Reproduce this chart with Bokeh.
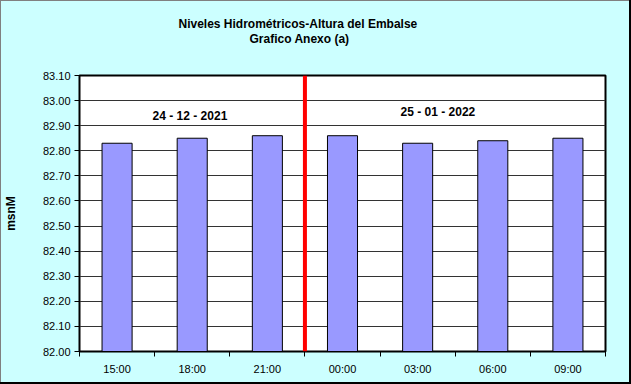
from bokeh.plotting import figure
from bokeh.models import (ColumnDataSource, FixedTicker, Span, Label, Title,
                          NumeralTickFormatter, Range1d)
from bokeh.embed import file_html
from bokeh.resources import INLINE

# ---- data ----
hours = ["15:00", "18:00", "21:00", "00:00", "03:00", "06:00", "09:00"]
levels = [82.83, 82.85, 82.86, 82.86, 82.83, 82.84, 82.85]
date_labels = ["24 - 12 - 2021", "25 - 01 - 2022"]
title_lines = ["Niveles Hidrométricos-Altura del Embalse", "Grafico Anexo (a)"]
y_label = "msnM"
y_min, y_max = 82.00, 83.10
y_ticks = [82.00, 82.10, 82.20, 82.30, 82.40, 82.50, 82.60, 82.70, 82.80, 82.90, 83.00, 83.10]
divider_index = 3  # date change between 21:00 and 00:00

FONT = "Liberation Sans"
W, H = 631, 384
ML, MR, MT, MB = 78, 26, 75, 33

xs = [i + 0.5 for i in range(len(hours))]
src = ColumnDataSource(dict(x=xs, top=levels, hour=hours))

p = figure(width=W, height=H, output_backend="svg", toolbar_location=None,
           x_range=Range1d(0, len(hours)), y_range=Range1d(y_min, y_max),
           min_border_left=ML, min_border_right=MR, min_border_top=MT,
           min_border_bottom=MB,
           styles={"background-color": "#CCFFFF",
                   "box-shadow": "inset -2px -2px 0 0 #000000, inset 1px 1px 0 0 #808080"})
p.title.visible = False
p.background_fill_color = "white"
p.border_fill_alpha = 0
p.outline_line_color = "black"
p.outline_line_width = 2

p.vbar(x="x", top="top", bottom=y_min, width=0.4, source=src,
       fill_color="#9999FF", line_color="black", line_width=1)

# x axis
p.xaxis.ticker = FixedTicker(ticks=xs, minor_ticks=list(range(len(hours) + 1)))
p.xaxis.major_label_overrides = {x: h for x, h in zip(xs, hours)}
p.xaxis.major_tick_out = 0
p.xaxis.major_tick_in = 0
p.xaxis.minor_tick_out = 5
p.xaxis.minor_tick_in = 0
p.xaxis.minor_tick_line_color = "black"
p.xaxis.axis_line_color = "black"
p.xaxis.major_label_text_font = FONT
p.xaxis.major_label_text_font_size = "11px"
p.xaxis.major_label_text_color = "black"
p.xaxis.major_label_standoff = 6
p.xgrid.visible = False

# y axis
p.yaxis.ticker = FixedTicker(ticks=y_ticks)
p.yaxis.formatter = NumeralTickFormatter(format="0.00")
p.yaxis.major_tick_out = 5
p.yaxis.major_tick_in = 0
p.yaxis.minor_tick_line_color = None
p.yaxis.axis_line_color = "black"
p.yaxis.major_label_text_font = FONT
p.yaxis.major_label_text_font_size = "11px"
p.yaxis.major_label_text_color = "black"
p.yaxis.major_label_standoff = 4
p.yaxis.axis_label = y_label
p.yaxis.axis_label_text_font = FONT
p.yaxis.axis_label_text_font_style = "bold"
p.yaxis.axis_label_text_font_size = "12px"
p.yaxis.axis_label_text_color = "black"
p.yaxis.axis_label_standoff = 22
p.ygrid.grid_line_color = "#333333"
p.ygrid.grid_line_width = 1

# divider
p.add_layout(Span(location=divider_index, dimension="height", line_color="red", line_width=4))

# date labels
p.add_layout(Label(x=1.47, y=82.94, text=date_labels[0], text_align="center",
                   text_baseline="middle", text_font=FONT, text_font_style="bold",
                   text_font_size="12px", text_color="black"))
p.add_layout(Label(x=4.77, y=82.955, text=date_labels[1], text_align="center",
                   text_baseline="middle", text_font=FONT, text_font_style="bold",
                   text_font_size="12px", text_color="black"))

# titles: spacer nearest the frame, then line 2, then line 1
p.add_layout(Title(text=" ", text_font_size="1px", standoff=27), "above")
p.add_layout(Title(text=title_lines[1], align="left", offset=170, standoff=0,
                   text_font=FONT, text_font_style="bold", text_font_size="12px",
                   text_color="black"), "above")
p.add_layout(Title(text=title_lines[0], align="left", offset=99, standoff=-2,
                   text_font=FONT, text_font_style="bold", text_font_size="12px",
                   text_color="black"), "above")

open("out.html", "w").write(file_html(p, INLINE))
